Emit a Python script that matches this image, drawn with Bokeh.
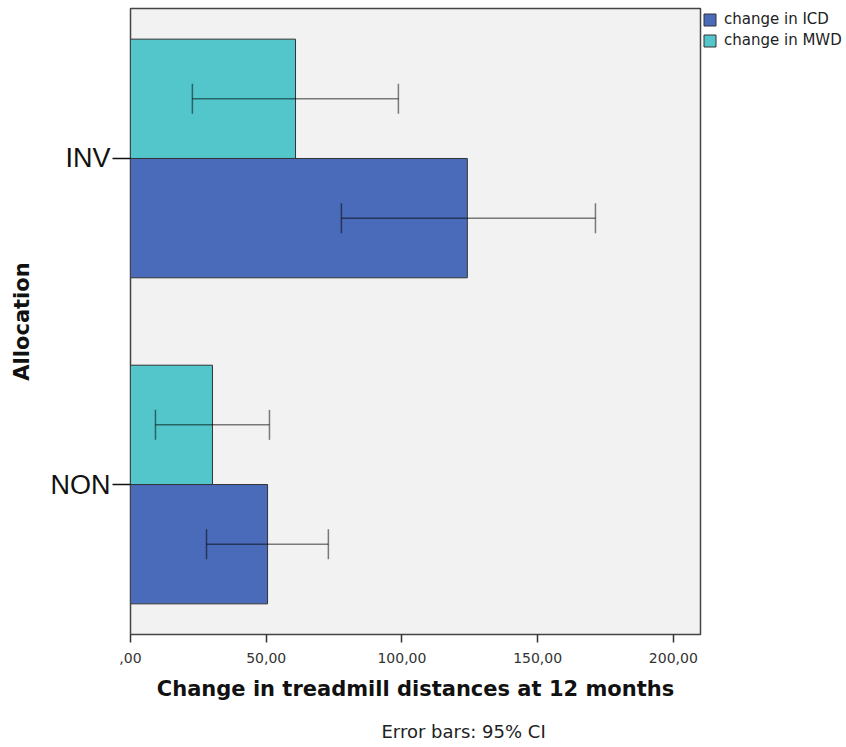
from bokeh.plotting import figure
from bokeh.models import (Range1d, FixedTicker, Whisker, TeeHead, ColumnDataSource,
                          Legend, LegendItem, Title)
from bokeh.embed import file_html
from bokeh.resources import INLINE

categories = ["NON", "INV"]
icd_mean = [50.5, 124.1]
icd_low = [28.0, 77.7]
icd_high = [72.9, 171.3]
mwd_mean = [30.2, 60.8]
mwd_low = [9.2, 22.8]
mwd_high = [51.2, 98.7]
x_ticks = [0, 50, 100, 150, 200]
x_tick_labels = [",00", "50,00", "100,00", "150,00", "200,00"]

ICD_COLOR = "#4a6bb9"
MWD_COLOR = "#53c6cc"
BH = 0.366
OFF = BH / 2

pos = list(range(len(categories)))

p = figure(output_backend="svg", toolbar_location=None,
           frame_width=570, frame_height=626,
           min_border_left=130, min_border_right=130,
           min_border_top=8, min_border_bottom=100,
           x_range=Range1d(0, 210), y_range=Range1d(-0.46, 1.46))
p.background_fill_color = "#f2f2f2"
p.border_fill_color = "white"
p.outline_line_color = "#444444"
p.outline_line_width = 1.5
p.xgrid.visible = False
p.ygrid.visible = False

src_icd = ColumnDataSource(dict(y=[v - OFF for v in pos], m=icd_mean, lo=icd_low, hi=icd_high))
src_mwd = ColumnDataSource(dict(y=[v + OFF for v in pos], m=mwd_mean, lo=mwd_low, hi=mwd_high))

r_icd = p.hbar(y="y", left=0, right="m", height=BH, source=src_icd,
               fill_color=ICD_COLOR, line_color="#333333", line_width=1)
r_mwd = p.hbar(y="y", left=0, right="m", height=BH, source=src_mwd,
               fill_color=MWD_COLOR, line_color="#333333", line_width=1)

for src in (src_icd, src_mwd):
    w = Whisker(source=src, base="y", lower="lo", upper="hi", dimension="width",
                level="overlay",
                line_color="black", line_alpha=0.5, line_width=1.5,
                lower_head=TeeHead(size=30, line_color="black", line_alpha=0.5, line_width=1.5),
                upper_head=TeeHead(size=30, line_color="black", line_alpha=0.5, line_width=1.5))
    p.add_layout(w)

# axes
p.xaxis.ticker = FixedTicker(ticks=x_ticks)
p.xaxis.major_label_overrides = {t: l for t, l in zip(x_ticks, x_tick_labels)}
p.xaxis.minor_tick_line_color = None
p.xaxis.major_tick_out = 8
p.xaxis.major_tick_in = 0
p.xaxis.major_tick_line_color = "#333333"
p.xaxis.major_tick_line_width = 1.5
p.xaxis.axis_line_color = "#444444"
p.xaxis.major_label_text_font = "DejaVu Sans"
p.xaxis.major_label_text_font_size = "14px"
p.xaxis.major_label_text_color = "#333333"
p.xaxis.major_label_standoff = 10
p.xaxis.axis_label = "Change in treadmill distances at 12 months"
p.xaxis.axis_label_text_font = "DejaVu Sans"
p.xaxis.axis_label_text_font_size = "21px"
p.xaxis.axis_label_text_font_style = "bold"
p.xaxis.axis_label_text_color = "#111111"
p.xaxis.axis_label_standoff = 11

p.yaxis.ticker = FixedTicker(ticks=pos)
p.yaxis.major_label_overrides = {i: c for i, c in zip(pos, categories)}
p.yaxis.minor_tick_line_color = None
p.yaxis.major_tick_out = 18
p.yaxis.major_tick_in = 0
p.yaxis.major_tick_line_color = "#111111"
p.yaxis.major_tick_line_width = 1.5
p.yaxis.axis_line_color = "#444444"
p.yaxis.major_label_text_font = "Liberation Sans"
p.yaxis.major_label_text_font_size = "27px"
p.yaxis.major_label_text_color = "#111111"
p.yaxis.major_label_standoff = 2
p.yaxis.axis_label = "Allocation"
p.yaxis.axis_label_text_font = "DejaVu Sans"
p.yaxis.axis_label_text_font_size = "21px"
p.yaxis.axis_label_text_font_style = "bold"
p.yaxis.axis_label_text_color = "#111111"
p.yaxis.axis_label_standoff = 14

legend = Legend(items=[LegendItem(label="change in ICD", renderers=[r_icd]),
                       LegendItem(label="change in MWD", renderers=[r_mwd])],
                location="top_left", margin=2, padding=0, spacing=3,
                glyph_width=15, glyph_height=15, label_height=15,
                label_standoff=7, label_text_font="DejaVu Sans",
                label_text_font_size="15px", label_text_color="#222222",
                border_line_color=None, background_fill_alpha=0)
p.add_layout(legend, "right")

note = Title(text="Error bars: 95% CI", align="left", offset=251, standoff=30,
             text_font="DejaVu Sans", text_font_size="18px",
             text_font_style="normal", text_color="#222222")
p.add_layout(note, "below")

open("out.html", "w").write(file_html(p, INLINE))
